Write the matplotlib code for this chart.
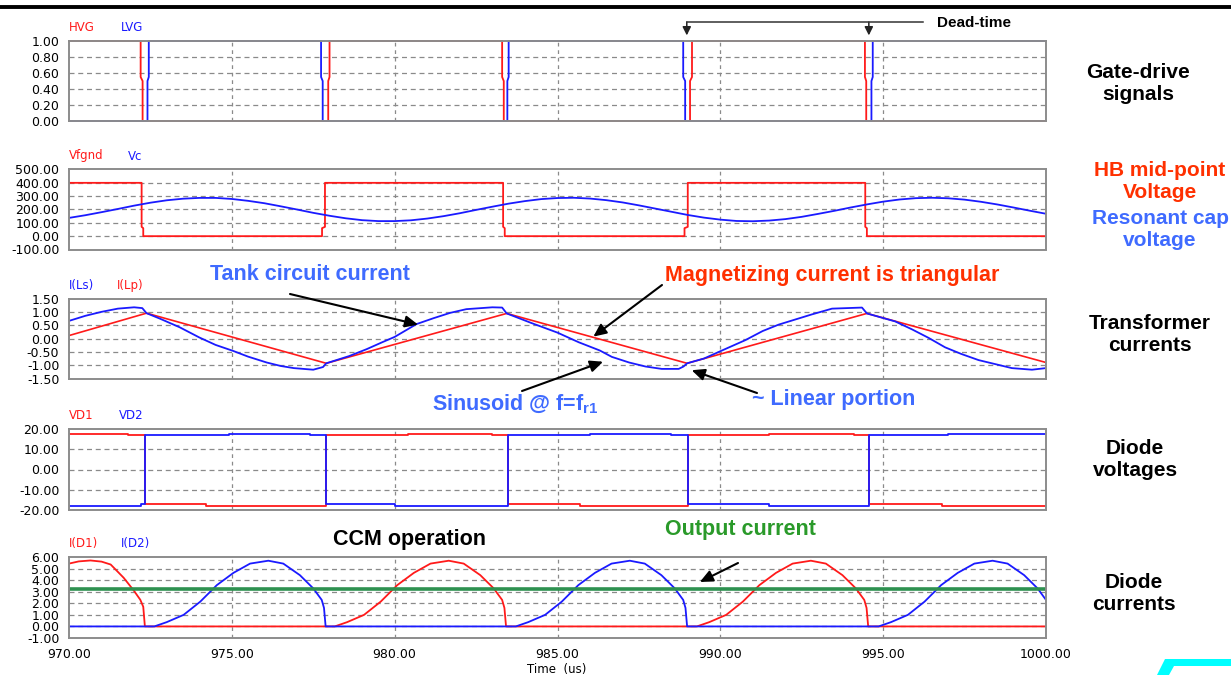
import matplotlib
matplotlib.use('Agg')
import matplotlib.pyplot as plt
import numpy as np
from matplotlib.lines import Line2D
from matplotlib.patches import Polygon
from matplotlib.ticker import FormatStrFormatter

plt.rcParams['font.family'] = ['DejaVu Sans']
plt.rcParams['mathtext.fontset'] = 'custom'
plt.rcParams['mathtext.rm'] = 'Liberation Sans'
plt.rcParams['mathtext.bf'] = 'Liberation Sans:bold'

RED = '#ff1a1a'
BLUE = '#1a1aff'

# ---- gate drive signals (us, V normalised)
hvg_t = [970, 972.2, 972.2, 972.26, 972.26, 977.96, 977.96, 978.0, 978.0, 983.3, 983.3, 983.35, 983.35,
         989.07, 989.07, 989.13, 989.13, 994.44, 994.44, 994.48, 994.48, 1000]
hvg_v = [1, 1, 0.55, 0.5, 0, 0, 0.5, 0.55, 1, 1, 0.55, 0.5, 0, 0, 0.5, 0.55, 1, 1, 0.55, 0.5, 0, 0]
lvg_t = [970, 972.41, 972.41, 972.45, 972.45, 977.74, 977.74, 977.79, 977.79, 983.46, 983.46, 983.5, 983.5,
         988.86, 988.86, 988.92, 988.92, 994.64, 994.64, 994.68, 994.68, 1000]
lvg_v = [0, 0, 0.5, 0.55, 1, 1, 0.55, 0.5, 0, 0, 0.5, 0.55, 1, 1, 0.55, 0.5, 0, 0, 0.5, 0.55, 1, 1]

# ---- half-bridge midpoint and resonant cap voltage
vfg_t = [970, 972.23, 972.23, 972.28, 972.28, 977.77, 977.77, 977.86, 977.86, 983.33, 983.33, 983.38, 983.38,
         988.9, 988.9, 989.0, 989.0, 994.45, 994.45, 994.5, 994.5, 1000]
vfg_v = [400, 400, 70, 60, 0, 0, 60, 70, 400, 400, 70, 60, 0, 0, 60, 70, 400, 400, 70, 60, 0, 0]
vc_t = np.arange(970, 1000.25, 0.5)
vc_v = [137, 157, 180, 204, 229, 251, 269, 281, 287, 287,
        279, 265, 247, 224, 200, 175, 153, 134, 120, 113,
        113, 119, 132, 150, 172, 197, 221, 244, 263, 278,
        286, 288, 282, 270, 253, 231, 207, 183, 159, 139,
        124, 114, 112, 117, 128, 145, 167, 190, 215, 238,
        259, 275, 285, 288, 284, 274, 258, 238, 215, 191, 168]

# ---- transformer currents
ils_t = [970.0, 970.5, 971.0, 971.5, 972.0, 972.25, 972.38, 972.8, 973.4, 974.0, 974.5, 975.05, 975.5, 976.07,
         976.5, 976.9, 977.5, 977.8, 977.9, 978.6, 979.14, 979.6, 980.0, 980.67, 981.19, 981.7, 982.2, 983.0,
         983.3, 983.44, 984.2, 985.0, 985.65, 986.3, 986.67, 987.2, 987.7, 988.2, 988.72, 988.87, 988.98,
         989.5, 990.05, 990.77, 991.3, 991.79, 992.8, 993.43, 994.35, 994.5, 995.37, 995.89, 996.4, 996.9,
         997.4, 997.93, 998.95, 999.57, 1000.0]
ils_v = [0.66, 0.85, 1.00, 1.12, 1.17, 1.14, 0.95, 0.74, 0.42, 0.04, -0.24, -0.47, -0.68, -0.90,
         -1.03, -1.11, -1.17, -1.07, -0.93, -0.66, -0.40, -0.15, 0.06, 0.54, 0.76, 0.96, 1.10, 1.17,
         1.16, 0.94, 0.58, 0.22, -0.14, -0.45, -0.69, -0.90, -1.05, -1.14, -1.14, -1.05, -0.93,
         -0.75, -0.45, -0.06, 0.28, 0.52, 0.90, 1.12, 1.16, 0.94, 0.64, 0.34, 0.02, -0.33,
         -0.58, -0.81, -1.11, -1.17, -1.11]
ilp_t = [970.0, 972.38, 977.9, 983.44, 988.98, 994.5, 1000.0]
ilp_v = [0.11, 0.95, -0.93, 0.94, -0.93, 0.94, -0.90]

# ---- diode voltages (steps)
vd1_t = [970, 971.8, 972.34, 974.2, 977.9, 980.4, 983.0, 983.47, 985.7, 989.0, 991.5, 994.1, 994.58, 996.8, 1000]
vd1_v = [17.5, 16.9, -17.2, -18.0, 16.9, 17.5, 16.9, -17.2, -18.0, 16.9, 17.5, 16.9, -17.2, -18.0, -18.0]
vd2_t = [970, 972.2, 972.34, 974.9, 977.4, 977.9, 980.0, 983.47, 986.0, 988.5, 989.0, 991.5, 994.58, 997.0, 1000]
vd2_v = [-18.0, -17.2, 16.9, 17.5, 16.9, -17.2, -18.0, 16.9, 17.5, 16.9, -17.2, -18.0, 16.9, 17.5, 17.5]

# ---- diode currents
id1_t = [970.0, 970.3, 970.66, 971.0, 971.28, 971.68, 971.99, 972.19, 972.28, 972.33,
         978.16, 978.54, 979.06, 979.57, 980.08, 980.59, 981.1, 981.66, 982.12, 982.63, 983.04, 983.3, 983.37, 983.42,
         989.28, 989.66, 990.18, 990.69, 991.2, 991.71, 992.22, 992.78, 993.24, 993.75, 994.16, 994.42, 994.49, 994.54,
         1000.0]
id1_v = [5.43, 5.62, 5.70, 5.60, 5.35, 4.20, 3.10, 2.30, 1.70, 0.0,
         0.0, 0.37, 1.00, 2.14, 3.57, 4.63, 5.43, 5.68, 5.43, 4.43, 3.29, 2.29, 1.60, 0.0,
         0.0, 0.37, 1.00, 2.14, 3.57, 4.63, 5.43, 5.68, 5.43, 4.43, 3.29, 2.29, 1.60, 0.0,
         0.0]
id2_t = [970.0,
         972.62, 973.0, 973.52, 974.03, 974.54, 975.05, 975.56, 976.12, 976.58, 977.09, 977.5, 977.76, 977.83, 977.88,
         983.72, 984.1, 984.62, 985.13, 985.64, 986.15, 986.66, 987.22, 987.68, 988.19, 988.6, 988.86, 988.93, 988.98,
         994.86, 995.24, 995.76, 996.27, 996.78, 997.29, 997.8, 998.36, 998.82, 999.33, 999.74, 1000.0]
id2_v = [0.0,
         0.0, 0.37, 1.00, 2.14, 3.57, 4.63, 5.43, 5.68, 5.43, 4.43, 3.29, 2.29, 1.60, 0.0,
         0.0, 0.37, 1.00, 2.14, 3.57, 4.63, 5.43, 5.68, 5.43, 4.43, 3.29, 2.29, 1.60, 0.0,
         0.0, 0.37, 1.00, 2.14, 3.57, 4.63, 5.43, 5.68, 5.43, 4.43, 3.29, 2.29]
io_t = [970, 1000]
io_v = [3.2, 3.2]

W, H = 1231, 675
fig = plt.figure(figsize=(W / 100, H / 100), dpi=100)


def px(x, y):
    return (x / W, 1 - y / H)


boxes = [(41, 121), (169.5, 249.5), (298.5, 378.5), (429, 510), (557, 638)]
ylims = [(0, 1), (-100, 500), (-1.5, 1.5), (-20, 20), (-1, 6)]
yticks = [np.arange(0, 1.01, 0.2), np.arange(-100, 501, 100), np.arange(-1.5, 1.51, 0.5),
          [-20, -10, 0, 10, 20], np.arange(-1, 6.1, 1)]
labels = [('HVG', RED, 'LVG', BLUE, 52), ('Vfgnd', RED, 'Vc', BLUE, 59), ('I(Ls)', BLUE, 'I(Lp)', RED, 48),
          ('VD1', RED, 'VD2', BLUE, 50), ('I(D1)', RED, 'I(D2)', BLUE, 52)]

axes = []
for i, (top, bot) in enumerate(boxes):
    x0, y0 = px(69, bot)
    ax = fig.add_axes([x0, y0, (1046 - 69) / W, (bot - top) / H])
    ax.set_xlim(970, 1000)
    ax.set_ylim(*ylims[i])
    ax.set_yticks(yticks[i])
    ax.yaxis.set_major_formatter(FormatStrFormatter('%.2f'))
    ax.set_xticks(np.arange(970, 1001, 5))
    ax.xaxis.set_major_formatter(FormatStrFormatter('%.2f'))
    ax.tick_params(length=0, labelsize=9, pad=7)
    if i < 4:
        ax.tick_params(labelbottom=False)
    for s in ax.spines.values():
        s.set_color('#8c8c8c')
        s.set_linewidth(1.4)
    for t in yticks[i][1:-1]:
        ax.axhline(t, color='#8a8a8a', lw=0.9, ls=(0, (4, 3)), zorder=0)
    for t in range(975, 1000, 5):
        ax.axvline(t, color='#8a8a8a', lw=0.9, ls=(0, (3, 3)), zorder=0)
    a, ca, b, cb, off = labels[i]
    ax.annotate(a, (0, 1), xycoords='axes fraction', xytext=(0, 13.5), textcoords='offset pixels',
                color=ca, fontsize=8.5, va='center', ha='left')
    ax.annotate(b, (0, 1), xycoords='axes fraction', xytext=(off, 13.5), textcoords='offset pixels',
                color=cb, fontsize=8.5, va='center', ha='left')
    axes.append(ax)

ax1, ax2, ax3, ax4, ax5 = axes
ax1.plot(hvg_t, hvg_v, color=RED, lw=1.3, clip_on=False)
ax1.plot(lvg_t, lvg_v, color=BLUE, lw=1.3, clip_on=False)
ax2.plot(vfg_t, vfg_v, color=RED, lw=1.3)
ax2.plot(vc_t, vc_v, color=BLUE, lw=1.3)
ax3.plot(ilp_t, ilp_v, color=RED, lw=1.2)
ax3.plot(ils_t, ils_v, color=BLUE, lw=1.3)
ax4.plot(vd1_t, vd1_v, color=RED, lw=1.3, drawstyle='steps-post')
ax4.plot(vd2_t, vd2_v, color=BLUE, lw=1.3, drawstyle='steps-post')
ax5.plot(id1_t, id1_v, color=RED, lw=1.3)
ax5.plot(id2_t, id2_v, color=BLUE, lw=1.3)
ax5.plot(io_t, io_v, color='#2e9150', lw=2.6)

fig.text(*px(557, 670), 'Time  (us)', fontsize=8.5, ha='center', va='center')

# right-hand descriptions
bold = dict(family='Liberation Sans', fontweight='bold', fontsize=15, ha='center', va='center', linespacing=1.2)
fig.text(*px(1138, 83.5), 'Gate-drive\nsignals', **bold)
fig.text(*px(1160, 182), 'HB mid-point\nVoltage', color='#ff3000', **bold)
fig.text(*px(1160, 229), 'Resonant cap\nvoltage', color='#3f6bff', **bold)
fig.text(*px(1150, 335), 'Transformer\ncurrents', **bold)
fig.text(*px(1135, 460), 'Diode\nvoltages', **bold)
fig.text(*px(1134, 594), 'Diode\ncurrents', **bold)

# callouts
note = dict(family='Liberation Sans', fontweight='bold', fontsize=15.5, va='center', ha='left')
fig.text(*px(210, 275), 'Tank circuit current', color='#3f6bff', **note)
fig.text(*px(665, 276), 'Magnetizing current is triangular', color='#ff3000', **note)
fig.text(*px(432, 404), 'Sinusoid @ f=f$_{\\mathbf{r1}}$', color='#3f6bff', **note)
fig.text(*px(752, 400), '~ Linear portion', color='#3f6bff', **note)
fig.text(*px(333, 539), 'CCM operation', color='black', **note)
fig.text(*px(665, 529), 'Output current', color='#2a9a2a', **note)
fig.text(*px(937, 23), 'Dead-time', color='black', family='Liberation Sans', fontweight='bold',
         fontsize=11, va='center', ha='left')

arrow_style = dict(arrowstyle='-|>,head_length=0.55,head_width=0.25', color='black', lw=1.5,
                   mutation_scale=14, shrinkA=0, shrinkB=0)


def callout(ax, tip, start):
    ax.annotate('', xy=tip, xycoords='data', xytext=px(*start), textcoords='figure fraction',
                arrowprops=arrow_style, annotation_clip=False)


callout(ax3, (980.72, 0.52), (290, 294))
callout(ax3, (986.1, 0.07), (662, 285))
callout(ax3, (986.4, -0.87), (522, 391))
callout(ax3, (989.12, -1.19), (757, 393))
callout(ax5, (989.37, 3.84), (738, 563))

# dead-time bracket
fig.add_artist(Line2D([687 / W, 923 / W], [1 - 22 / H, 1 - 22 / H], color='#333333', lw=1.1))
dt_style = dict(arrowstyle='-|>,head_length=0.5,head_width=0.25', color='#222222', lw=1.1,
                mutation_scale=10, shrinkA=0, shrinkB=0)
for t in (988.97, 994.56):
    ax1.annotate('', xy=(t, 1.07), xycoords='data', xytext=(t, 1 + 19 / 80), textcoords='data',
                 arrowprops=dt_style, annotation_clip=False)

# slide decorations
fig.add_artist(Line2D([0, 1], [1 - 6.5 / H, 1 - 6.5 / H], color='black', lw=2.8))
fig.add_artist(Polygon([px(1157, 675), px(1165, 659), px(1231, 659), px(1231, 666), px(1174, 666), px(1169, 675)],
                       closed=True, transform=fig.transFigure, color='#00ffff', lw=0))

fig.savefig('out.png', dpi=100)
